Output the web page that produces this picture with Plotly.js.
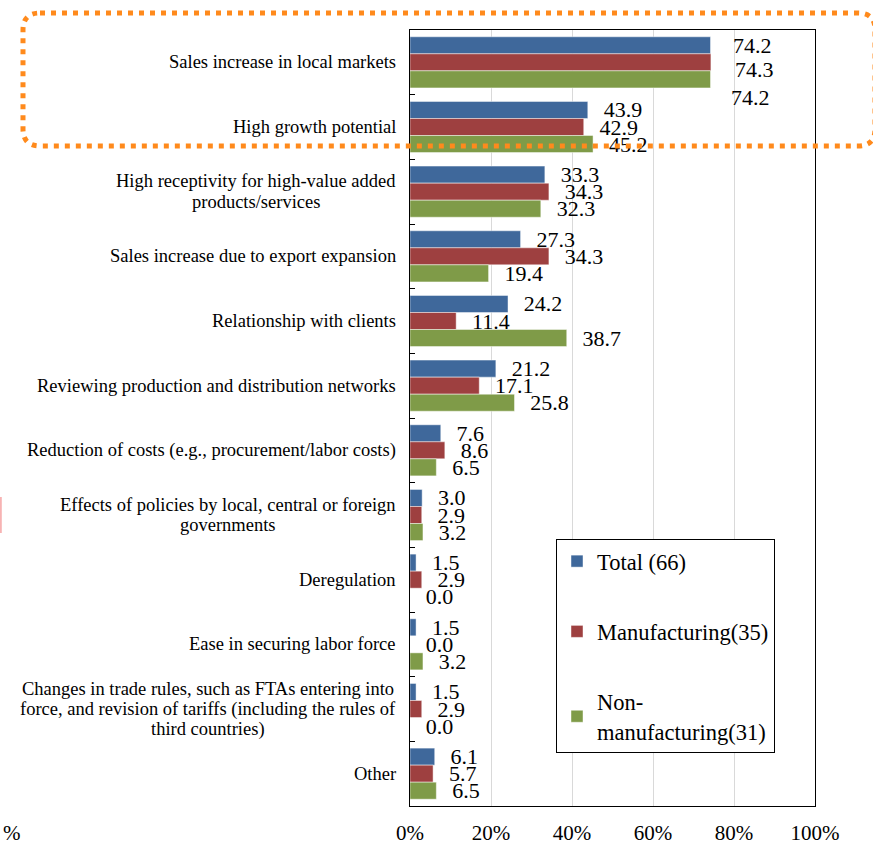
<!DOCTYPE html>
<html>
<head>
<meta charset="utf-8">
<script src="https://cdn.plot.ly/plotly-3.0.1.min.js"></script>
<style>html,body{margin:0;padding:0;background:#fff;}#chart{width:873px;height:845px;}</style>
</head>
<body>
<div id="chart"></div>
<script>
// ---- data ----
const categories = [
  "Sales increase in local markets",
  "High growth potential",
  "High receptivity for high-value added<br>products/services",
  "Sales increase due to export expansion",
  "Relationship with clients",
  "Reviewing production and distribution networks",
  "Reduction of costs (e.g., procurement/labor costs)",
  "Effects of policies by local, central or foreign<br>governments",
  "Deregulation",
  "Ease in securing labor force",
  "Changes in trade rules, such as FTAs entering into<br>force, and revision of tariffs (including the rules of<br>third countries)",
  "Other"
];
const totalVals = [74.2, 43.9, 33.3, 27.3, 24.2, 21.2, 7.6, 3.0, 1.5, 1.5, 1.5, 6.1];
const manufVals = [74.3, 42.9, 34.3, 34.3, 11.4, 17.1, 8.6, 2.9, 2.9, 0.0, 2.9, 5.7];
const nonManufVals = [74.2, 45.2, 32.3, 19.4, 38.7, 25.8, 6.5, 3.2, 0.0, 3.2, 0.0, 6.5];
const seriesNames = ["Total (66)", "Manufacturing(35)", "Non-<br>manufacturing(31)"];
const xTicks = [0, 20, 40, 60, 80, 100];
const xTickLabels = ["0%", "20%", "40%", "60%", "80%", "100%"];

// ---- styling ----
const colors = ["#3F689B", "#9E4040", "#7F9B48"];
const FONT = "Liberation Serif";
const CAT_SIZE = 18.5;
const M = {l: 410, r: 58, t: 30, b: 39};
const W = 873 - M.l - M.r, H = 845 - M.t - M.b;
const px = x => (x - M.l) / W;
const py = y => 1 - (y - M.t) / H;
const PAD = "\u00a0\u00a0\u200a";

const allVals = [totalVals, manufVals, nonManufVals];
// first group's labels are placed as separate (staggered) annotations, like the original
const traces = allVals.map((vals, i) => ({
  type: "bar",
  orientation: "h",
  name: seriesNames[i],
  legendgroup: "g" + i,
  y: categories,
  x: vals,
  text: vals.map((v, j) => j === 0 ? "" : PAD + v.toFixed(1)),
  textposition: "outside",
  constraintext: "none",
  cliponaxis: false,
  textfont: {family: FONT, size: 22, color: "#000"},
  marker: {color: colors[i], line: {color: "rgba(255,255,255,0.45)", width: 1}},
  hoverinfo: "skip"
}));

// rounded dotted highlight rectangle (pixel -> paper)
function roundRect(x1, y1, x2, y2, r) {
  const P = (x, y) => px(x).toFixed(5) + "," + py(y).toFixed(5);
  return "M" + P(x1 + r, y1) + " L" + P(x2 - r, y1) + " Q" + P(x2, y1) + " " + P(x2, y1 + r) +
    " L" + P(x2, y2 - r) + " Q" + P(x2, y2) + " " + P(x2 - r, y2) +
    " L" + P(x1 + r, y2) + " Q" + P(x1, y2) + " " + P(x1, y2 - r) +
    " L" + P(x1, y1 + r) + " Q" + P(x1, y1) + " " + P(x1 + r, y1) + " Z";
}

// measure text to centre multi-line category labels as a block
const ctx = document.createElement("canvas").getContext("2d");
ctx.font = CAT_SIZE + "px 'Liberation Serif'";

const annotations = [];
const LINE_H = 20.5;
categories.forEach(c => {
  const lines = c.split("<br>");
  const mid = (lines.length - 1) / 2;
  const maxW = Math.max(...lines.map(l => ctx.measureText(l).width));
  lines.forEach((ln, k) => {
    annotations.push({
      xref: "paper", x: 0, xshift: -14 - maxW / 2, xanchor: "center",
      yref: "y", y: c, yanchor: "middle", yshift: (mid - k) * LINE_H,
      text: ln, showarrow: false,
      font: {family: FONT, size: CAT_SIZE, color: "#000"}
    });
  });
});
// staggered labels of the first group
const firstShifts = [[20, 17], [22, -7], [18, -35]];
allVals.forEach((vals, i) => {
  annotations.push({
    xref: "x", x: vals[0], xanchor: "left", xshift: firstShifts[i][0],
    yref: "y", y: categories[0], yanchor: "middle", yshift: firstShifts[i][1],
    text: vals[0].toFixed(1), showarrow: false,
    font: {family: FONT, size: 22, color: "#000"}
  });
});
annotations.push({
  xref: "paper", x: px(1), xanchor: "left",
  yref: "paper", y: py(833), yanchor: "middle",
  text: "%", showarrow: false,
  font: {family: FONT, size: 21, color: "#000"}
});

const layout = {
  width: 873, height: 845,
  margin: M,
  paper_bgcolor: "#fff", plot_bgcolor: "#fff",
  font: {family: FONT, size: 21, color: "#000"},
  barmode: "group", bargap: 0.21, bargroupgap: 0,
  showlegend: true,
  legend: {
    x: px(556), y: py(539), xanchor: "left", yanchor: "top",
    bgcolor: "#fff", bordercolor: "#000", borderwidth: 1,
    font: {family: FONT, size: 22.5, color: "#000"},
    tracegroupgap: 38, traceorder: "grouped",
    itemclick: false
  },
  xaxis: {
    range: [0, 100], tickmode: "array", tickvals: xTicks, ticktext: xTickLabels,
    showgrid: true, gridcolor: "#d9d9d9", gridwidth: 1,
    showline: true, linecolor: "#000", linewidth: 1, mirror: true,
    ticks: "", zeroline: false,
    ticklabelstandoff: 8,
    tickfont: {family: FONT, size: 21, color: "#000"},
    fixedrange: true
  },
  xaxis2: {
    overlaying: "x", side: "top", range: [0, 100], tickmode: "array", tickvals: xTicks,
    ticks: "inside", ticklen: 4, tickcolor: "#000",
    showticklabels: false, showgrid: false, showline: false, zeroline: false
  },
  yaxis: {
    range: [11.5, -0.5], type: "category",
    showticklabels: false, showgrid: false,
    showline: true, linecolor: "#000", linewidth: 1, mirror: true,
    ticks: "inside", ticklen: 5, tickcolor: "#000", tickson: "boundaries",
    zeroline: false, fixedrange: true
  },
  shapes: [
    {
      type: "path", xref: "paper", yref: "paper", layer: "above",
      path: roundRect(23, 13, 875, 146, 17),
      line: {color: "#FF8A1C", width: 5, dash: "5px,6px"}
    },
    {
      type: "line", xref: "paper", yref: "paper",
      x0: px(0.8), x1: px(0.8), y0: py(497), y1: py(533),
      line: {color: "#f7b3b3", width: 2}
    }
  ],
  annotations: annotations
};

Plotly.newPlot("chart", traces, layout, {displayModeBar: false, staticPlot: true});
</script>
</body>
</html>
